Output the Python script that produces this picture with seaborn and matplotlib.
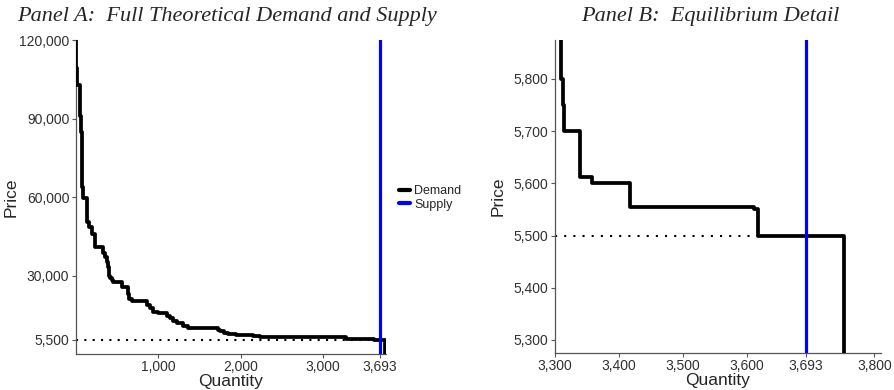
import matplotlib
matplotlib.use("Agg")
import matplotlib.pyplot as plt
from matplotlib.lines import Line2D
from matplotlib.ticker import FuncFormatter
import seaborn as sns
import pandas as pd

# Demand schedule: cumulative quantity reached at each price level (step curve)
demand_qty = [0, 22, 54, 60, 66, 74, 79, 84, 90, 136, 140, 167, 195, 236, 336,
              360, 378, 390, 400, 417, 440, 457, 559, 578, 639, 650, 680, 862,
              901, 941, 1002, 1104, 1143, 1180, 1224, 1305, 1360, 1728, 1750,
              1800, 1850, 1940, 2151, 2233, 2595, 3282, 3310, 3313, 3315, 3340,
              3358, 3417, 3612, 3618, 3753, 3753]
demand_price = [120000, 109200, 102900, 97000, 91000, 85000, 77000, 70000, 64000,
                59800, 55000, 50300, 48400, 45900, 40800, 38500, 37000, 35000,
                33200, 30000, 29000, 28100, 27500, 25800, 25600, 23000, 21200,
                20250, 18600, 17400, 16100, 15500, 14500, 13600, 12500, 11700,
                10700, 10000, 9200, 8700, 8200, 7600, 7200, 6900, 6600, 6400,
                5900, 5800, 5750, 5700, 5612, 5600, 5555, 5550, 5500, 0]

supply_qty = 3693
clearing_price = 5500
clearing_qty = 3618

panel_titles = ["Panel A:  Full Theoretical Demand and Supply",
                "Panel B:  Equilibrium Detail"]
xticks_a = [1000, 2000, 3000, 3693]
yticks_a = [5500, 30000, 60000, 90000, 120000]
xticks_b = [3300, 3400, 3500, 3600, 3693, 3800]
yticks_b = [5300, 5400, 5500, 5600, 5700, 5800]
series_labels = ["Demand", "Supply"]

sns.set_style("ticks")
plt.rcParams["font.family"] = ["Liberation Sans", "DejaVu Sans"]

demand = pd.DataFrame({"Quantity": demand_qty, "Price": demand_price})

fig = plt.figure(figsize=(8.95, 3.90), dpi=100)
ax_a = fig.add_axes([0.0844, 0.0923, 0.347, 0.805])
ax_b = fig.add_axes([0.620, 0.0949, 0.364, 0.803])

comma = FuncFormatter(lambda v, _: f"{v:,.0f}")
spine_col = "#555555"

for ax, xt, yt, xl, yl, dot_pat, ypad in [
    (ax_a, xticks_a, yticks_a, (0, 3765), (0, 120000), (0, (1, 3)), 0),
    (ax_b, xticks_b, yticks_b, (3300, 3810), (5275, 5875), (0, (1, 3.4)), 6),
]:
    # equilibrium price reference
    ax.plot([xl[0], clearing_qty], [clearing_price, clearing_price],
            color="black", lw=1.5, linestyle=dot_pat, zorder=1)
    sns.lineplot(data=demand, x="Quantity", y="Price", ax=ax, color="black",
                 lw=2.7, drawstyle="steps-pre", estimator=None, sort=False,
                 zorder=3)
    ax.axvline(supply_qty, color="#0000ff", lw=2.3, zorder=4)
    ax.set_xlim(*xl)
    ax.set_ylim(*yl)
    ax.set_xticks(xt)
    ax.set_yticks(yt)
    ax.xaxis.set_major_formatter(comma)
    ax.yaxis.set_major_formatter(comma)
    ax.set_xlabel("Quantity", fontsize=12.5, labelpad=0)
    ax.set_ylabel("Price", fontsize=12.5, labelpad=ypad)
    ax.tick_params(axis="both", labelsize=10, length=3, width=0.8,
                   color=spine_col, labelcolor="#303030", pad=1.5)
    for side in ["top", "right"]:
        ax.spines[side].set_visible(False)
    for side in ["left", "bottom"]:
        ax.spines[side].set_color(spine_col)
        ax.spines[side].set_linewidth(0.9)

title_font = dict(family=["Liberation Serif", "DejaVu Serif"], style="italic",
                  fontsize=16)
fig.text(227 / 895, 1 - 17 / 390, panel_titles[0], ha="center", va="center",
         **title_font)
fig.text(710 / 895, 1 - 17 / 390, panel_titles[1], ha="center", va="center",
         **title_font)

handles = [Line2D([], [], color="black", lw=3),
           Line2D([], [], color="#0000ff", lw=3)]
fig.legend(handles, series_labels, loc="center left",
           bbox_to_anchor=(399 / 895, 1 - 198 / 390), frameon=False,
           fontsize=9, handlelength=0.9, handletextpad=0.3,
           labelspacing=0.12, borderpad=0, borderaxespad=0)

fig.savefig("out.png", dpi=100)
